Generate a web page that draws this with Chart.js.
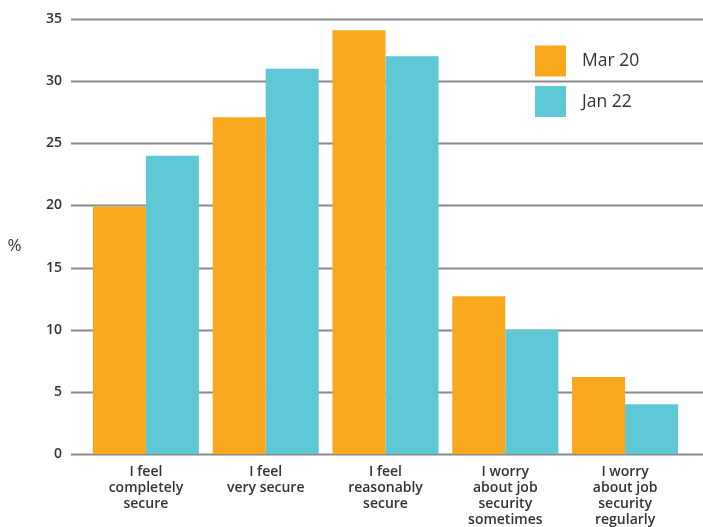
<!DOCTYPE html>
<html>
<head>
<meta charset="utf-8">
<script src="https://cdn.jsdelivr.net/npm/chart.js@4/dist/chart.umd.min.js"></script>
<style>
  html, body { margin: 0; padding: 0; background: #fff; }
  #wrap { width: 703px; height: 527px; }
</style>
</head>
<body>
<div id="wrap"><canvas id="grafico"></canvas></div>
<script>
// Dados
const categorias = [
  ['I feel', 'completely', 'secure'],
  ['I feel', 'very secure'],
  ['I feel', 'reasonably', 'secure'],
  ['I worry', 'about job', 'security', 'sometimes'],
  ['I worry', 'about job', 'security', 'regularly']
];
const serieMar20 = [19.9, 27.1, 34.1, 12.7, 6.2];
const serieJan22 = [24, 31, 32, 10, 4];
const ticksY = [0, 5, 10, 15, 20, 25, 30, 35];

const corLaranja = '#f9a81e';
const corAzul = '#5ec8d6';
const corTexto = '#333333';
const fonte = "'Open Sans', 'Noto Sans', sans-serif";

// Linhas de grade horizontais, mais largas que a área das barras
const gradePlugin = {
  id: 'grade',
  beforeDatasetsDraw(chart) {
    const { ctx, scales: { y }, chartArea, width } = chart;
    ctx.save();
    ctx.strokeStyle = '#8a8a8a';
    ctx.lineWidth = 2;
    ticksY.forEach(v => {
      const py = Math.round(y.getPixelForValue(v)) + 0.5;
      ctx.beginPath();
      ctx.moveTo(chartArea.left - 15, py);
      ctx.lineTo(width, py);
      ctx.stroke();
    });
    ctx.restore();
  }
};

// Legenda dentro do gráfico e o símbolo % do eixo
const legendaPlugin = {
  id: 'legendaInterna',
  afterDraw(chart) {
    const { ctx, chartArea } = chart;
    ctx.save();
    const x0 = chartArea.right - 150;
    let y0 = chartArea.top + 26.5;
    chart.data.datasets.forEach(ds => {
      ctx.fillStyle = ds.backgroundColor;
      ctx.fillRect(x0, y0, 31, 31);
      ctx.fillStyle = corTexto;
      ctx.font = "17.5px " + fonte;
      ctx.textBaseline = 'middle';
      ctx.textAlign = 'left';
      ctx.fillText(ds.label, x0 + 47, y0 + 16);
      y0 += 40.5;
    });
    ctx.font = "17px " + fonte;
    ctx.textAlign = 'center';
    ctx.fillText('%', 14.5, (chartArea.top + chartArea.bottom) / 2 + 10);
    ctx.restore();
  }
};

new Chart(document.getElementById('grafico'), {
  type: 'bar',
  data: {
    labels: categorias,
    datasets: [
      { label: 'Mar 20', data: serieMar20, backgroundColor: corLaranja },
      { label: 'Jan 22', data: serieJan22, backgroundColor: corAzul }
    ]
  },
  options: {
    responsive: true,
    maintainAspectRatio: false,
    animation: false,
    layout: { padding: { top: 19, right: 18, left: 0, bottom: 0 } },
    datasets: { bar: { barPercentage: 1, categoryPercentage: 0.885 } },
    plugins: {
      legend: { display: false },
      tooltip: { enabled: false }
    },
    scales: {
      x: {
        grid: { display: false, drawTicks: false },
        border: { display: false },
        ticks: {
          color: corTexto,
          padding: 10,
          maxRotation: 0,
          autoSkip: false,
          font: { family: fonte, size: 14, weight: '600', lineHeight: 1.15 }
        },
        afterFit(scale) {
          scale.height = 73;
          scale.paddingLeft = 0;
          scale.paddingRight = 0;
        }
      },
      y: {
        min: 0,
        max: 35,
        grid: { display: false, drawTicks: false },
        border: { display: false },
        afterBuildTicks(scale) { scale.ticks = ticksY.map(v => ({ value: v })); },
        ticks: {
          color: corTexto,
          padding: 24,
          font: { family: fonte, size: 14, weight: '600' }
        },
        afterFit(scale) {
          scale.width = 86;
          scale.paddingTop = 0;
          scale.paddingBottom = 0;
        }
      }
    }
  },
  plugins: [gradePlugin, legendaPlugin]
});
</script>
</body>
</html>
